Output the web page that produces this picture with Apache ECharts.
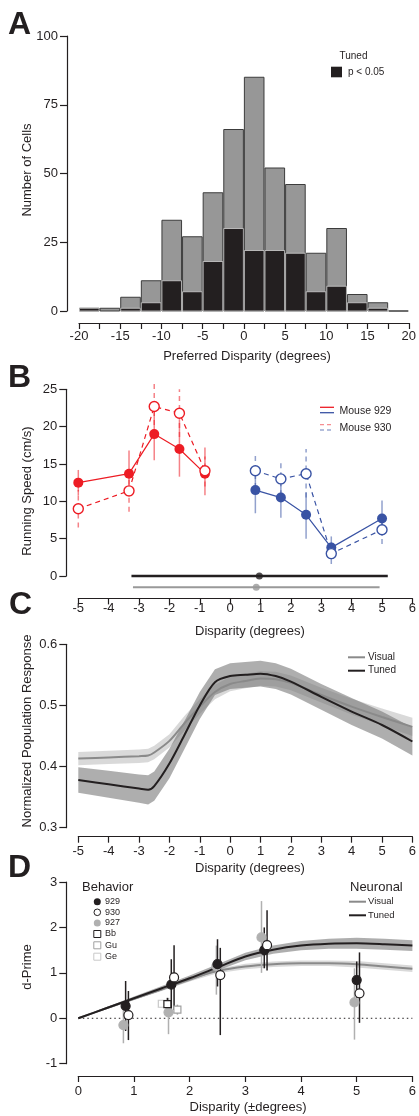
<!DOCTYPE html>
<html><head><meta charset="utf-8">
<script src="https://cdn.jsdelivr.net/npm/echarts@6/dist/echarts.min.js"></script>
<style>html,body{margin:0;padding:0;background:#fff}#c{width:419px;height:1116px}</style>
</head><body><div id="c"></div>
<script>
const FONT = '"Liberation Sans", Arial, Helvetica, sans-serif';
const INK = '#231f20';

// ---------- Panel A: histogram ----------
const histBinStart = [-20,-17.5,-15,-12.5,-10,-7.5,-5,-2.5,0,2.5,5,7.5,10,12.5,15,17.5];
const histBinEnd   = [-17.5,-15,-12.5,-10,-7.5,-5,-2.5,0,2.5,5,7.5,10,12.5,15,17.5,20];
const histTotal = [1,1,5,11,33,27,43,66,85,52,46,21,30,6,3,0];
const histTuned = [1,0,1,3,11,7,18,30,22,22,21,7,9,3,1,0];

// ---------- Panel B: running speed ----------
const bXRed  = [-5,-3.33,-2.5,-1.67,-0.83];
const bXBlue = [0.83,1.67,2.5,3.33,5];
const bRed929   = [12.5,13.7,19.0,17.0,13.7];
const bRed929Lo = [10.8,10.6,15.5,13.3,10.8];
const bRed929Hi = [14.2,16.8,22.3,21.0,17.2];
const bRed930   = [9.0,11.4,22.7,21.8,14.1];
const bRed930Lo = [6.5,8.6,19.0,18.6,12.0];
const bRed930Hi = [11.5,14.0,26.0,25.0,16.0];
const bBlue929   = [11.5,10.5,8.2,3.8,7.7];
const bBlue929Lo = [8.4,7.8,5.0,2.4,5.4];
const bBlue929Hi = [14.6,13.2,11.2,5.3,10.1];
const bBlue930   = [14.1,13.0,13.7,3.0,6.2];
const bBlue930Lo = [11.8,10.8,10.5,1.6,4.3];
const bBlue930Hi = [16.5,15.2,17.0,4.5,8.0];
// range bars below the plot: [start, centre, end] and their row value
const bRange929 = [-3.25,0.96,5.19], bRange929Y = 0;
const bRange930 = [-3.2,0.86,4.92],  bRange930Y = -1.5;

// ---------- Panel C: population response ----------
const cX       = [-5,-4,-3,-2.7,-2.5,-2,-1.5,-1,-0.5,0,0.5,1,1.5,2,3,4,5,6];
const cVisual  = [0.413,0.415,0.417,0.418,0.423,0.442,0.471,0.498,0.522,0.535,0.540,0.544,0.543,0.537,0.517,0.498,0.481,0.465];
const cVisualE = [0.011,0.011,0.011,0.011,0.011,0.011,0.012,0.012,0.012,0.012,0.012,0.012,0.012,0.012,0.012,0.013,0.014,0.015];
const cTuned   = [0.378,0.371,0.364,0.362,0.368,0.405,0.452,0.500,0.538,0.548,0.550,0.552,0.548,0.539,0.514,0.490,0.468,0.441];
const cTunedE  = [0.021,0.022,0.023,0.024,0.024,0.024,0.023,0.022,0.021,0.021,0.021,0.021,0.021,0.021,0.021,0.022,0.022,0.023];

// ---------- Panel D: d-prime ----------
const dCurveX  = [0,0.5,1,1.5,2,2.5,3,3.5,4,4.5,5,5.5,6];
const dTuned   = [0,0.22,0.44,0.66,0.88,1.12,1.36,1.51,1.60,1.64,1.65,1.63,1.60];
const dTunedE  = [0,0.02,0.04,0.05,0.06,0.07,0.08,0.09,0.10,0.11,0.12,0.12,0.12];
const dVisual  = [0,0.22,0.43,0.64,0.86,1.04,1.14,1.19,1.21,1.21,1.19,1.14,1.09];
const dVisualE = [0,0.02,0.03,0.04,0.05,0.05,0.06,0.06,0.06,0.06,0.07,0.07,0.07];
const d929X  = [0.85,1.67,2.5,3.34,5.0];
const d929   = [0.27,0.74,1.19,1.50,0.84];
const d929Lo = [-0.28,0.20,0.70,1.10,0.45];
const d929Hi = [0.82,1.30,1.74,2.00,1.25];
const d930X  = [0.9,1.72,2.55,3.39,5.05];
const d930   = [0.07,0.90,0.95,1.61,0.55];
const d930Lo = [-0.48,0.18,-0.37,1.05,-0.10];
const d930Hi = [0.60,1.61,1.55,2.38,1.45];
const d927X  = [0.81,1.62,2.48,3.29,4.96];
const d927   = [-0.15,0.13,1.15,1.78,0.35];
const d927Lo = [-0.55,-0.35,0.52,1.00,-0.47];
const d927Hi = [0.30,0.45,1.60,2.58,1.10];
const dBbX = [1.60], dBb = [0.31], dBbLo = [0.20], dBbHi = [0.45];
const dGuX = [1.78], dGu = [0.19], dGuLo = [0.08], dGuHi = [0.30];
const dGeX = [1.50], dGe = [0.32], dGeLo = [0.25], dGeHi = [0.40];
const dZero = [0, 6];

const RED = '#ed1c24', RED_L = 'rgba(237,28,36,0.55)';
const BLUE = '#3953a4', BLUE_L = 'rgba(57,83,164,0.55)';

const zip = (xs, ys) => xs.map((x, i) => [x, ys[i]]);
const zip3 = (xs, lo, hi) => xs.map((x, i) => [x, lo[i], hi[i]]);

function axisStyle(tickLen) {
  return {
    axisLine: {show: true, onZero: false, lineStyle: {color: INK, width: 1.2}},
    axisTick: {show: true, length: tickLen, lineStyle: {color: INK, width: 1.2}},
    splitLine: {show: false},
  };
}
function xAx(gi, min, max, interval, offset, margin, fmt) {
  return Object.assign({gridIndex: gi, type: 'value', min, max, interval, offset, position: 'bottom',
    axisLabel: {color: INK, fontSize: 13, fontFamily: FONT, margin, formatter: fmt || (v => String(v)), showMinLabel: true, showMaxLabel: true}}, axisStyle(6));
}
function yAx(gi, min, max, interval, fmt) {
  return Object.assign({gridIndex: gi, type: 'value', min, max, interval, offset: 12, position: 'left',
    axisLabel: {color: INK, fontSize: 13, fontFamily: FONT, margin: 9, formatter: fmt || (v => String(v))}}, axisStyle(7));
}

function errSeries(xi, yi, rows, color, width, dash, z) {
  return {
    type: 'custom', xAxisIndex: xi, yAxisIndex: yi, data: rows, z: z || 2,
    encode: {x: 0, y: [1, 2]},
    renderItem: (params, api) => {
      const a = api.coord([api.value(0), api.value(1)]);
      const b = api.coord([api.value(0), api.value(2)]);
      return {type: 'line', shape: {x1: a[0], y1: a[1], x2: b[0], y2: b[1]},
        style: {stroke: color, lineWidth: width, lineDash: dash || null}};
    }
  };
}
function bandSeries(xi, yi, xs, mid, err, fill, z) {
  return {
    type: 'custom', xAxisIndex: xi, yAxisIndex: yi, z: z || 1, silent: true,
    data: xs.map((x, i) => [x, mid[i] - err[i], mid[i] + err[i]]),
    encode: {x: 0, y: [1, 2]},
    renderItem: (params, api) => {
      if (params.dataIndex !== 0) return null;
      const up = xs.map((x, i) => api.coord([x, mid[i] + err[i]]));
      const dn = xs.map((x, i) => api.coord([x, mid[i] - err[i]])).reverse();
      return {type: 'polygon', shape: {points: up.concat(dn), smooth: 0}, style: {fill: fill, stroke: null}};
    }
  };
}

const grids = [
  {left: 79, right: 3.5, top: 36, height: 275},
  {left: 78.3, right: 4, top: 389.3, height: 186.7},
  {left: 78.3, right: 4, top: 644.3, height: 183.4},
  {left: 78.3, right: 4, top: 882, height: 181.7},
];

const xAxes = [
  xAx(0, -20, 20, 2.5, 12, 6.5, v => (Math.abs(v % 5) < 1e-9 ? String(v) : '')),
  xAx(1, -5, 6, 1, 22.4, 4),
  xAx(2, -5, 6, 1, 9, 8.5),
  xAx(3, 0, 6, 1, 12.3, 9),
];
const yAxes = [
  yAx(0, 0, 100, 25),
  yAx(1, 0, 25, 5),
  yAx(2, 0.3, 0.6, 0.1, v => v.toFixed(1)),
  yAx(3, -1, 3, 1),
];

const series = [];
// A
series.push({
  type: 'custom', xAxisIndex: 0, yAxisIndex: 0,
  data: histBinStart.map((s, i) => [s, histBinEnd[i], histTotal[i], histTuned[i]]),
  encode: {x: [0, 1], y: [2, 3]},
  renderItem: (params, api) => {
    const x0 = api.value(0), x1 = api.value(1), tot = api.value(2), tun = api.value(3);
    const p0 = api.coord([x0, 0]), pt = api.coord([x1, tot]), pu = api.coord([x1, tun]);
    const w = pt[0] - p0[0];
    const kids = [{type: 'rect', shape: {x: p0[0] + 0.5, y: pt[1], width: w - 1, height: p0[1] - pt[1]},
      style: {fill: '#979797', stroke: '#3c3c3c', lineWidth: 1}}];
    if (tun > 0) kids.push({type: 'rect', shape: {x: p0[0] + 0.5, y: pu[1], width: w - 1, height: p0[1] - pu[1]},
      style: {fill: INK, stroke: '#cfcfcf', lineWidth: 0.8}});
    return {type: 'group', children: kids};
  }
});

// B
series.push(errSeries(1, 1, zip3(bXRed, bRed929Lo, bRed929Hi), RED_L, 1.5));
series.push(errSeries(1, 1, zip3(bXRed, bRed930Lo, bRed930Hi), RED_L, 1.5, [5, 4]));
series.push(errSeries(1, 1, zip3(bXBlue, bBlue929Lo, bBlue929Hi), BLUE_L, 1.5));
series.push(errSeries(1, 1, zip3(bXBlue, bBlue930Lo, bBlue930Hi), BLUE_L, 1.5, [5, 4]));
function bLine(xs, ys, color, open) {
  return {type: 'line', xAxisIndex: 1, yAxisIndex: 1, data: zip(xs, ys), z: 3,
    symbol: 'circle', symbolSize: 10, showSymbol: true,
    lineStyle: {color: color, width: 1.2, type: open ? [5, 4] : 'solid'},
    itemStyle: open ? {color: '#fff', borderColor: color, borderWidth: 1.4} : {color: color, borderColor: color, borderWidth: 0}};
}
series.push(bLine(bXRed, bRed929, RED, false));
series.push(bLine(bXRed, bRed930, RED, true));
series.push(bLine(bXBlue, bBlue929, BLUE, false));
series.push(bLine(bXBlue, bBlue930, BLUE, true));
function rangeBar(r, y, color, w) {
  return [
    {type: 'line', xAxisIndex: 1, yAxisIndex: 1, clip: false, symbol: 'none', z: 3,
      data: [[r[0], y], [r[2], y]], lineStyle: {color, width: w}},
    {type: 'scatter', xAxisIndex: 1, yAxisIndex: 1, clip: false, symbolSize: 7, z: 4,
      data: [[r[1], y]], itemStyle: {color}}
  ];
}
series.push(...rangeBar(bRange929, bRange929Y, INK, 2.6));
series.push(...rangeBar(bRange930, bRange930Y, '#999999', 2));

// C
series.push(bandSeries(2, 2, cX, cVisual, cVisualE, 'rgba(165,165,165,0.42)', 1));
series.push(bandSeries(2, 2, cX, cTuned, cTunedE, 'rgba(115,115,115,0.58)', 2));
series.push({type: 'line', xAxisIndex: 2, yAxisIndex: 2, data: zip(cX, cVisual), smooth: 0.3, symbol: 'none', z: 3,
  lineStyle: {color: '#8a8a8a', width: 2}});
series.push({type: 'line', xAxisIndex: 2, yAxisIndex: 2, data: zip(cX, cTuned), smooth: 0.3, symbol: 'none', z: 4,
  lineStyle: {color: INK, width: 2}});

// D
series.push({type: 'line', xAxisIndex: 3, yAxisIndex: 3, data: dZero.map(x => [x, 0]), symbol: 'none', z: 1,
  lineStyle: {color: INK, width: 1, type: [1.5, 3]}});
series.push(bandSeries(3, 3, dCurveX, dVisual, dVisualE, 'rgba(165,165,165,0.42)', 1));
series.push(bandSeries(3, 3, dCurveX, dTuned, dTunedE, 'rgba(115,115,115,0.58)', 2));
series.push({type: 'line', xAxisIndex: 3, yAxisIndex: 3, data: zip(dCurveX, dVisual), smooth: 0.3, symbol: 'none', z: 3,
  lineStyle: {color: '#8a8a8a', width: 2}});
series.push({type: 'line', xAxisIndex: 3, yAxisIndex: 3, data: zip(dCurveX, dTuned), smooth: 0.3, symbol: 'none', z: 4,
  lineStyle: {color: INK, width: 2}});
series.push(errSeries(3, 3, zip3(d927X, d927Lo, d927Hi), '#b0b0b0', 1.5, null, 5));
series.push(errSeries(3, 3, zip3(dGeX, dGeLo, dGeHi), '#c8c8c8', 1.5, null, 5));
series.push(errSeries(3, 3, zip3(dGuX, dGuLo, dGuHi), '#a0a0a0', 1.5, null, 5));
series.push(errSeries(3, 3, zip3(dBbX, dBbLo, dBbHi), INK, 1.5, null, 5));
series.push(errSeries(3, 3, zip3(d929X, d929Lo, d929Hi), INK, 1.5, null, 5));
series.push(errSeries(3, 3, zip3(d930X, d930Lo, d930Hi), INK, 1.5, null, 5));
function dPts(xs, ys, sym, fill, border, size) {
  return {type: 'scatter', xAxisIndex: 3, yAxisIndex: 3, data: zip(xs, ys), symbol: sym, symbolSize: size, z: 6,
    itemStyle: {color: fill, borderColor: border, borderWidth: 1.2, opacity: 1}};
}
series.push(dPts(d927X, d927, 'circle', '#b0b0b0', '#b0b0b0', 9));
series.push(dPts(dGeX, dGe, 'rect', '#fff', '#c8c8c8', 7));
series.push(dPts(dGuX, dGu, 'rect', '#fff', '#a0a0a0', 7));
series.push(dPts(dBbX, dBb, 'rect', '#fff', INK, 7));
series.push(dPts(d929X, d929, 'circle', INK, INK, 9));
series.push(dPts(d930X, d930, 'circle', '#fff', INK, 9));

// ---------- text & legends ----------
function txt(x, y, text, size, opts) {
  return Object.assign({type: 'text', x, y, z: 100,
    style: Object.assign({text, fontSize: size, fontFamily: FONT, fill: INK, align: 'left', verticalAlign: 'middle'}, (opts && opts.style) || {})},
    opts && opts.rotation ? {rotation: opts.rotation} : {});
}
function seg(x1, y1, x2, y2, color, w, dash) {
  return {type: 'line', z: 100, shape: {x1, y1, x2, y2}, style: {stroke: color, lineWidth: w, lineDash: dash || null}};
}
const graphics = [
  txt(8, 25.5, 'A', 32, {style: {fontWeight: 'bold'}}),
  txt(8, 378.5, 'B', 32, {style: {fontWeight: 'bold'}}),
  txt(9, 605, 'C', 32, {style: {fontWeight: 'bold'}}),
  txt(8, 868.5, 'D', 32, {style: {fontWeight: 'bold'}}),
  // axis titles
  txt(27, 170, 'Number of Cells', 13, {rotation: Math.PI / 2, style: {align: 'center'}}),
  txt(247, 356, 'Preferred Disparity (degrees)', 13, {style: {align: 'center'}}),
  txt(27, 491, 'Running Speed (cm/s)', 13, {rotation: Math.PI / 2, style: {align: 'center'}}),
  txt(250, 631.7, 'Disparity (degrees)', 13, {style: {align: 'center'}}),
  txt(27, 731, 'Normalized Population Response', 13, {rotation: Math.PI / 2, style: {align: 'center'}}),
  txt(250, 868.3, 'Disparity (degrees)', 13, {style: {align: 'center'}}),
  txt(27, 967, 'd-Prime', 13, {rotation: Math.PI / 2, style: {align: 'center'}}),
  txt(248, 1107, 'Disparity (\u00b1degrees)', 13, {style: {align: 'center'}}),
  // legend A
  txt(339.5, 56, 'Tuned', 10),
  {type: 'rect', z: 100, shape: {x: 331, y: 66.7, width: 11, height: 10.6}, style: {fill: INK}},
  txt(348, 72, 'p < 0.05', 10),
  // legend B
  seg(320, 407.3, 334, 407.3, RED, 1.3),
  seg(320, 412.7, 334, 412.7, BLUE, 1.3),
  txt(339.5, 410.7, 'Mouse 929', 10.5),
  seg(320, 424.7, 334, 424.7, 'rgba(237,28,36,0.5)', 1.3, [4, 3]),
  seg(320, 430, 334, 430, 'rgba(57,83,164,0.5)', 1.3, [4, 3]),
  txt(339.5, 427.7, 'Mouse 930', 10.5),
  // legend C
  seg(348, 657.3, 365, 657.3, '#8a8a8a', 2),
  txt(368, 657.3, 'Visual', 10),
  seg(348, 670.7, 365, 670.7, INK, 2),
  txt(368, 670.7, 'Tuned', 10),
  // legend D
  txt(82, 887, 'Behavior', 13),
  {type: 'circle', z: 100, shape: {cx: 97.3, cy: 901.7, r: 3.5}, style: {fill: INK}},
  txt(105, 901.7, '929', 9),
  {type: 'circle', z: 100, shape: {cx: 97.3, cy: 912.3, r: 3.3}, style: {fill: '#fff', stroke: INK, lineWidth: 1}},
  txt(105, 912.3, '930', 9),
  {type: 'circle', z: 100, shape: {cx: 97.3, cy: 922.9, r: 3.5}, style: {fill: '#b0b0b0'}},
  txt(105, 922.9, '927', 9),
  {type: 'rect', z: 100, shape: {x: 93.8, y: 930.5, width: 7, height: 7}, style: {fill: '#fff', stroke: INK, lineWidth: 1}},
  txt(105, 934, 'Bb', 9),
  {type: 'rect', z: 100, shape: {x: 93.8, y: 941.8, width: 7, height: 7}, style: {fill: '#fff', stroke: '#a0a0a0', lineWidth: 1}},
  txt(105, 945.3, 'Gu', 9),
  {type: 'rect', z: 100, shape: {x: 93.8, y: 953.2, width: 7, height: 7}, style: {fill: '#fff', stroke: '#c8c8c8', lineWidth: 1}},
  txt(105, 956.7, 'Ge', 9),
  txt(350, 887, 'Neuronal', 13),
  seg(349, 901.7, 366, 901.7, '#8a8a8a', 2),
  txt(368, 901.7, 'Visual', 9.5),
  seg(349, 915.3, 366, 915.3, INK, 2),
  txt(368, 915.3, 'Tuned', 9.5),
];

const chart = echarts.init(document.getElementById('c'), null, {renderer: 'canvas'});
chart.setOption({
  animation: false,
  backgroundColor: '#fff',
  textStyle: {fontFamily: FONT},
  grid: grids,
  xAxis: xAxes,
  yAxis: yAxes,
  series: series,
  graphic: graphics,
});
</script></body></html>
